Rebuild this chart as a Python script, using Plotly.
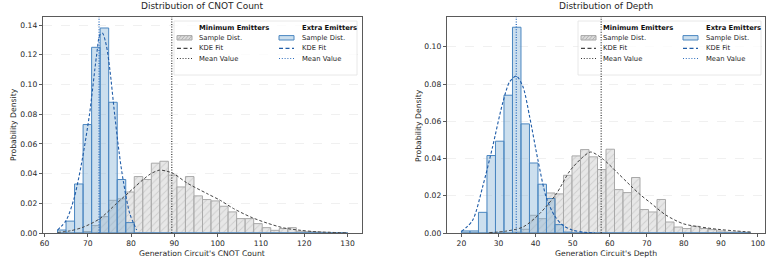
import numpy as np
import plotly.graph_objects as go

# ---------------- data ----------------
# CNOT count histograms: 34 common bins spanning [63, 130]
cnot_bin_range = [63, 130]
cnot_min_density = [0, 0, 0, 0.001, 0.005, 0.011, 0.022, 0.023, 0.0276, 0.038,
                    0.036, 0.047, 0.0483, 0.039, 0.031, 0.038, 0.025, 0.0225, 0.0216, 0.018,
                    0.0142, 0.0097, 0.0097, 0.0063, 0.0036, 0.0018, 0.003, 0.0036, 0.0012, 0.0009,
                    0.0007, 0.0005, 0.0003, 0.0003]
cnot_extra_density = [0.002, 0.008, 0.033, 0.073, 0.125, 0.138, 0.088, 0.036, 0.007] + [0] * 25

cnot_min_kde_x = [63, 66, 69, 72.8, 76.6, 80.5, 82.8, 84.5, 86.5, 88, 89.8, 92.9, 97.5,
                  100.6, 103.7, 107.6, 111.4, 115.3, 119.2, 123, 130]
cnot_min_kde_y = [0.0004, 0.0015, 0.004, 0.0097, 0.0198, 0.030, 0.036, 0.0398, 0.0423, 0.0418,
                  0.040, 0.0337, 0.0266, 0.022, 0.0164, 0.0108, 0.0067, 0.0034, 0.0018, 0.0008, 0.0001]
cnot_extra_kde_x = [63, 65, 66.8, 68.5, 70.4, 72.0, 72.8, 73.4, 74.3, 75.1, 76.2, 77.2, 78.2, 79.7, 81.3]
cnot_extra_kde_y = [0.002, 0.0085, 0.023, 0.046, 0.080, 0.119, 0.1335, 0.1345, 0.126, 0.110,
                    0.080, 0.055, 0.035, 0.013, 0.002]
cnot_min_mean = 89.4
cnot_extra_mean = 72.6

# Depth histograms: 34 common bins spanning [20, 98]
depth_bin_range = [20, 98]
depth_min_density = [0, 0, 0, 0, 0, 0, 0.0005, 0.002, 0.0095, 0.0077,
                     0.0215, 0.021, 0.031, 0.0414, 0.0448, 0.0409, 0.0341, 0.045, 0.0233, 0.0217,
                     0.0298, 0.0126, 0.0113, 0.018, 0.0059, 0.0032, 0.0024, 0.0036, 0.0024, 0.0018,
                     0.0011, 0.0005, 0.0005, 0.0004]
depth_extra_density = [0.0011, 0.0011, 0.0111, 0.0416, 0.0493, 0.074, 0.1105, 0.0586, 0.0376, 0.0262,
                       0.0185, 0.0045, 0.0005] + [0] * 21

depth_min_kde_x = [27.5, 32, 36.6, 41.1, 45.65, 49.3, 52.9, 54.9, 58.3, 62, 65.6, 68.3, 71,
                   75.1, 79.8, 84.6, 89.1, 94, 98]
depth_min_kde_y = [0.0002, 0.001, 0.0032, 0.0104, 0.0212, 0.0335, 0.041, 0.0435, 0.0395, 0.0325,
                   0.0255, 0.0205, 0.0162, 0.0097, 0.005, 0.0032, 0.002, 0.0011, 0.0005]
depth_extra_kde_x = [20, 23, 25.7, 28.4, 31.1, 33.0, 34.8, 36.6, 38.4, 40.65, 42.9, 45.2, 47.4, 50, 53, 56]
depth_extra_kde_y = [0.0008, 0.0068, 0.0247, 0.0463, 0.0696, 0.0812, 0.0843, 0.0785, 0.0624, 0.039,
                     0.019, 0.009, 0.0041, 0.0015, 0.0004, 0.0001]
depth_min_mean = 57.7
depth_extra_mean = 34.8

titles = ["Distribution of CNOT Count", "Distribution of Depth"]
x_titles = ["Generation Circuit's CNOT Count", "Generation Circuit's Depth"]
y_title = "Probability Density"
group_names = ["Minimum Emitters", "Extra Emitters"]
legend_labels = ["Sample Dist.", "KDE Fit", "Mean Value"]

# ---------------- styling ----------------
FONT = "DejaVu Sans"
GRAY_FILL = "rgba(222,222,222,0.75)"
GRAY_HATCH = "#b4b4b4"
GRAY_EDGE = "#a9a9a9"
GRAY_LINE = "#444444"
BLUE_FILL = "rgba(120,170,210,0.38)"
BLUE_EDGE = "#4a86c0"
BLUE_LINE = "#1f5ca8"
BLUE_MEAN = "#2f6fbf"
TEXT = "#262626"

W, H = 777, 260
PLOT_PX = [(43, 362), (447, 765)]
PLOT_TOP, PLOT_BOT = 17, 233

fig = go.Figure()


def edges_centers(rng, n):
    edges = np.linspace(rng[0], rng[1], n + 1)
    return (edges[:-1] + edges[1:]) / 2, edges[1] - edges[0]


panels = [
    dict(rng=cnot_bin_range, mn=cnot_min_density, ex=cnot_extra_density,
         mkx=cnot_min_kde_x, mky=cnot_min_kde_y, ekx=cnot_extra_kde_x, eky=cnot_extra_kde_y,
         mm=cnot_min_mean, em=cnot_extra_mean, xr=[59.65, 133.35], yr=[0, 0.1454],
         xt=list(range(60, 131, 10)), yt=[0, 0.02, 0.04, 0.06, 0.08, 0.10, 0.12, 0.14]),
    dict(rng=depth_bin_range, mn=depth_min_density, ex=depth_extra_density,
         mkx=depth_min_kde_x, mky=depth_min_kde_y, ekx=depth_extra_kde_x, eky=depth_extra_kde_y,
         mm=depth_min_mean, em=depth_extra_mean, xr=[16.1, 101.9], yr=[0, 0.1160],
         xt=list(range(20, 101, 10)), yt=[0, 0.02, 0.04, 0.06, 0.08, 0.10]),
]

for i, p in enumerate(panels):
    xa = "x" if i == 0 else "x2"
    ya = "y" if i == 0 else "y2"
    centers, bw = edges_centers(p["rng"], len(p["mn"]))
    fig.add_trace(go.Bar(x=centers, y=p["mn"], width=bw, xaxis=xa, yaxis=ya,
                         marker=dict(color=GRAY_FILL, line=dict(color=GRAY_EDGE, width=1),
                                     pattern=dict(shape="/", fgcolor=GRAY_HATCH, size=5, solidity=0.18,
                                                  fillmode="overlay")),
                         showlegend=False, hoverinfo="skip"))
    fig.add_trace(go.Bar(x=centers, y=p["ex"], width=bw, xaxis=xa, yaxis=ya,
                         marker=dict(color=BLUE_FILL, line=dict(color=BLUE_EDGE, width=1)),
                         showlegend=False, hoverinfo="skip"))
    fig.add_trace(go.Scatter(x=p["mkx"], y=p["mky"], mode="lines", xaxis=xa, yaxis=ya,
                             line=dict(color=GRAY_LINE, width=1, dash="3px,2px", shape="spline", smoothing=0.8),
                             showlegend=False, hoverinfo="skip"))
    fig.add_trace(go.Scatter(x=p["ekx"], y=p["eky"], mode="lines", xaxis=xa, yaxis=ya,
                             line=dict(color=BLUE_LINE, width=1.1, dash="3px,2px", shape="spline", smoothing=0.8),
                             showlegend=False, hoverinfo="skip"))

    x0px, x1px = PLOT_PX[i]
    axis_common = dict(showline=True, mirror=True, linecolor="#5a5a5a", linewidth=1.2,
                       ticks="outside", ticklen=3, tickwidth=1, tickcolor="#5a5a5a",
                       tickfont=dict(family=FONT, size=7.6, color=TEXT), zeroline=False,
                       automargin=False)
    fig.update_layout(**{
        ("xaxis" if i == 0 else "xaxis2"): dict(domain=[x0px / W, x1px / W], range=p["xr"],
                                                 tickvals=p["xt"], showgrid=False, anchor=ya,
                                                 **axis_common),
        ("yaxis" if i == 0 else "yaxis2"): dict(domain=[1 - PLOT_BOT / H, 1 - PLOT_TOP / H], range=p["yr"],
                                                 tickvals=p["yt"], tickformat=".2f", showgrid=True,
                                                 gridcolor="#ececec", gridwidth=0.8, griddash="dash",
                                                 anchor=xa, **axis_common),
    })

    cx = (x0px + x1px) / 2 / W
    fig.add_annotation(text=titles[i], x=cx, y=1 - 5.5 / H, xref="paper", yref="paper",
                       showarrow=False, xanchor="center", yanchor="middle",
                       font=dict(family=FONT, size=9, color=TEXT))
    fig.add_annotation(text=x_titles[i], x=cx, y=1 - 253.5 / H, xref="paper", yref="paper",
                       showarrow=False, xanchor="center", yanchor="middle",
                       font=dict(family=FONT, size=7.7, color=TEXT))
    fig.add_annotation(text=y_title, x=(13 if i == 0 else 418) / W, y=1 - 125 / H,
                       xref="paper", yref="paper", showarrow=False, textangle=-90,
                       xanchor="center", yanchor="middle",
                       font=dict(family=FONT, size=7.7, color=TEXT))

    # ---- legend (two columns) drawn inside the axes ----
    PW = x1px - x0px
    PH = PLOT_BOT - PLOT_TOP
    xd = xa + " domain"
    yd = ya + " domain"

    def X(r):
        return r / PW

    def Y(r):
        return 1 - r / PH

    fig.add_shape(type="rect", xref=xd, yref=yd, x0=X(131), x1=X(314), y0=Y(4), y1=Y(58),
                  fillcolor="rgba(255,255,255,0.8)", line=dict(color="#e2e2e2", width=0.8), layer="above")

    # mean lines (drawn over the legend frame, as in the reference)
    fig.add_shape(type="line", xref=xa, yref=ya + " domain", x0=p["mm"], x1=p["mm"], y0=0, y1=1,
                  line=dict(color="#333333", width=1.2, dash="1px,1.6px"), layer="above")
    fig.add_shape(type="line", xref=xa, yref=ya + " domain", x0=p["em"], x1=p["em"], y0=0, y1=1,
                  line=dict(color=BLUE_MEAN, width=1.3, dash="1px,1.6px"), layer="above")

    cols = [(134, 154, GRAY_FILL, GRAY_EDGE, GRAY_LINE, "#333333"),
            (236, 257, BLUE_FILL, BLUE_EDGE, BLUE_LINE, BLUE_MEAN)]
    rows = [20.8, 31.3, 41.5]
    for c, (sx, tx, fc, ec, lc, mc) in enumerate(cols):
        fig.add_annotation(text="<b>%s</b>" % group_names[c], x=X(tx), y=Y(10.5), xref=xd, yref=yd,
                           showarrow=False, xanchor="left", yanchor="middle",
                           font=dict(family=FONT, size=6.8, color="#111111"))
        for r, lab in zip(rows, legend_labels):
            fig.add_annotation(text=lab, x=X(tx), y=Y(r), xref=xd, yref=yd, showarrow=False,
                               xanchor="left", yanchor="middle",
                               font=dict(family=FONT, size=6.8, color=TEXT))
        # patch
        fig.add_shape(type="rect", xref=xd, yref=yd, x0=X(sx), x1=X(sx + 15), y0=Y(rows[0] - 2.2),
                      y1=Y(rows[0] + 2.2), fillcolor=fc if c else "#dcdcdc",
                      line=dict(color=ec if c else "#a6a6a6", width=1), layer="above")
        if c == 0:
            for k in range(4):
                a = sx + 1 + 3.5 * k
                fig.add_shape(type="line", xref=xd, yref=yd, x0=X(a), x1=X(a + 3.2),
                              y0=Y(rows[0] + 1.8), y1=Y(rows[0] - 1.8),
                              line=dict(color="#9e9e9e", width=0.7), layer="above")
        fig.add_shape(type="line", xref=xd, yref=yd, x0=X(sx), x1=X(sx + 15), y0=Y(rows[1]), y1=Y(rows[1]),
                      line=dict(color=lc, width=1.3, dash="4px,2.5px"), layer="above")
        fig.add_shape(type="line", xref=xd, yref=yd, x0=X(sx), x1=X(sx + 15), y0=Y(rows[2]), y1=Y(rows[2]),
                      line=dict(color=mc, width=1.2, dash="1px,1.8px"), layer="above")

fig.update_layout(width=W, height=H, margin=dict(l=0, r=0, t=0, b=0),
                  paper_bgcolor="white", plot_bgcolor="white", barmode="overlay",
                  showlegend=False, font=dict(family=FONT, color=TEXT))

fig.write_html("out.html", config={"displayModeBar": False, "staticPlot": True},
               post_script="document.body.style.margin='0';document.body.style.overflow='hidden';")
